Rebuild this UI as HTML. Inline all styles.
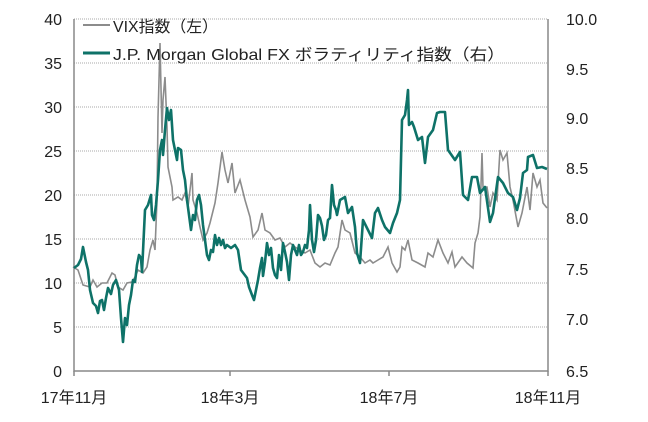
<!DOCTYPE html><html><head><meta charset="utf-8"><style>body{margin:0;background:#fff}svg{display:block}text{font-family:"Liberation Sans","Noto Sans CJK JP",sans-serif;fill:#222;font-size:16px}</style></head><body>
<svg width="648" height="422" viewBox="0 0 648 422">
<g stroke="#aaa" stroke-width="1" stroke-dasharray="1,1">
<line x1="74" x2="548" y1="19" y2="19"/><line x1="74" x2="548" y1="63" y2="63"/><line x1="74" x2="548" y1="107" y2="107"/><line x1="74" x2="548" y1="151" y2="151"/><line x1="74" x2="548" y1="195" y2="195"/><line x1="74" x2="548" y1="239" y2="239"/><line x1="74" x2="548" y1="283" y2="283"/><line x1="74" x2="548" y1="327" y2="327"/></g>
<g stroke="#888" stroke-width="1.5" fill="none"><path d="M74 19V371H548V19"/><path d="M74 371v5M230 371v5M389 371v5M548 371v5"/></g>
<polyline fill="none" stroke="#8c8c8c" stroke-width="1.6" points="73,267 78,270 83,285 90,287 93,280 97,287 102,283 107,283 112,273 115,275 118,287 123,290 127,283 132,282 135,277 138,270 143,273 147,267 150,250 153,240 155,250 157,200 158,117 160,43 162,133 163,100 165,77 167,127 168,167 172,187 173,200 178,197 182,200 185,193 188,207 192,173 193,200 197,213 200,227 203,240 207,233 210,223 215,203 218,183 222,152 225,170 228,183 232,163 235,193 240,180 245,200 250,217 253,237 258,230 262,213 265,230 270,233 275,240 280,238 285,247 290,243 295,247 300,250 305,253 310,250 315,263 320,267 325,263 330,265 335,253 338,247 342,220 345,230 350,233 355,253 360,257 365,263 370,260 373,263 378,260 383,257 388,247 392,263 397,272 400,267 402,247 405,250 408,240 412,260 418,263 425,267 428,253 433,257 438,240 443,253 448,263 452,252 455,267 462,257 467,263 473,268 475,243 478,233 480,217 482,153 483,187 487,187 490,207 493,193 497,200 500,150 503,160 507,153 510,187 513,200 518,227 522,213 527,187 530,210 533,173 537,187 540,180 543,203 547,208"/>
<polyline fill="none" stroke="#0e7268" stroke-width="2.6" stroke-linejoin="round" points="74,268 78,265 81,259 83,247 86,262 88,270 90,290 93,303 96,306 98,313 100,301 102,300 104,310 106,298 108,288 111,294 113,285 116,280 119,290 121,318 123,342 125,318 127,325 129,305 131,295 133,280 135,282 137,265 139,255 141,258 142,272 145,210 148,205 151,195 152,215 154,220 156,205 158,180 160,150 162,140 163,155 165,130 167,108 169,120 171,110 173,140 175,150 177,160 178,148 181,150 183,170 185,180 187,200 189,215 191,230 193,215 195,220 197,200 199,195 201,205 203,225 205,240 207,255 209,260 211,250 213,252 215,235 217,245 219,238 221,245 223,240 225,248 227,245 231,248 235,245 238,250 241,270 244,274 247,278 249,287 252,295 254,300 256,290 258,280 260,268 262,258 263,276 265,262 267,243 269,255 271,248 273,268 275,275 277,278 279,255 281,270 283,243 285,252 287,262 289,280 291,255 293,245 295,250 297,255 299,245 301,255 303,252 305,245 307,248 309,230 310,205 312,240 314,252 316,240 318,215 320,218 322,226 324,240 326,235 328,220 330,218 332,185 334,205 336,210 337,215 340,200 345,197 348,213 352,207 355,227 357,253 360,263 363,220 368,230 372,238 375,213 378,208 382,220 385,227 390,233 393,223 397,213 400,200 402,120 405,115 407,100 408,90 409,125 412,122 414,127 418,140 422,137 425,163 428,137 433,130 437,113 440,112 445,112 448,150 455,160 460,152 463,195 468,200 472,177 477,177 480,193 485,187 490,222 493,213 498,177 503,183 508,193 513,197 517,210 520,198 523,173 527,170 528,157 533,155 537,168 542,167 547,169"/>
<line x1="83" x2="110" y1="25" y2="25" stroke="#8c8c8c" stroke-width="2"/>
<line x1="83" x2="110" y1="53" y2="53" stroke="#0e7268" stroke-width="3"/>
<text x="113" y="32" font-size="17" textLength="105" lengthAdjust="spacingAndGlyphs">VIX指数（左）</text>
<text x="113" y="60" font-size="17" textLength="392" lengthAdjust="spacingAndGlyphs">J.P. Morgan Global FX ボラティリティ指数（右）</text>
<g text-anchor="end"><text x="62" y="25">40</text><text x="62" y="69">35</text><text x="62" y="113">30</text><text x="62" y="157">25</text><text x="62" y="201">20</text><text x="62" y="245">15</text><text x="62" y="289">10</text><text x="62" y="333">5</text><text x="62" y="377">0</text></g>
<g><text x="566" y="25">10.0</text><text x="566" y="75">9.5</text><text x="566" y="124">9.0</text><text x="566" y="174">8.5</text><text x="566" y="224">8.0</text><text x="566" y="275">7.5</text><text x="566" y="325">7.0</text><text x="566" y="377">6.5</text></g>
<g text-anchor="middle"><text x="74" y="403">17年11月</text><text x="230" y="403">18年3月</text><text x="389" y="403">18年7月</text><text x="548" y="403">18年11月</text></g>
</svg></body></html>
